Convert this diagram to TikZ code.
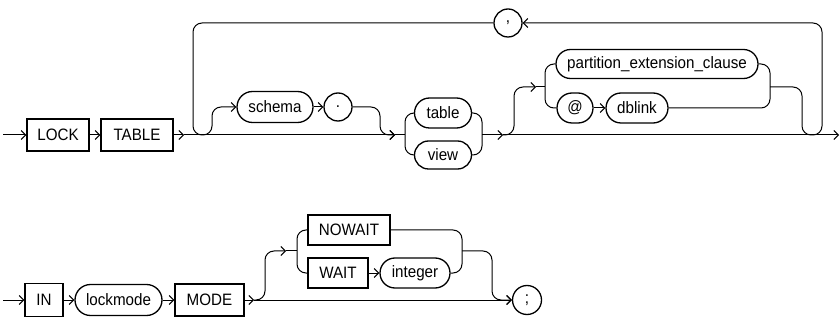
\documentclass[tikz,border=0pt]{standalone}
\usepackage{fontspec}
\setmainfont{Liberation Sans}[FakeStretch=0.92]
\usetikzlibrary{arrows.meta,shapes.misc}
\newcommand{\diagfont}{\fontsize{16.5}{18}\selectfont}
\begin{document}
\begin{tikzpicture}[x=1pt,y=-1pt,
  line width=1pt,
  >={Straight Barb[length=4.5pt,width=9pt]},
  kw/.style={draw, rectangle, line width=1.3pt, minimum height=32pt, inner sep=0pt, font=\diagfont},
  nt/.style={draw, rounded rectangle, line width=1.3pt, minimum height=30pt, inner sep=0pt, font=\diagfont},
  pc/.style={draw, circle, line width=1.3pt, minimum size=28pt, inner sep=0pt, font=\diagfont},
  rc/.style={rounded corners=9pt}]
\useasboundingbox (0,0) rectangle (840,320);

% ---------- row 1 ----------
\coordinate (s1) at (3,135);
\node[kw, minimum width=62pt] (lock) at (58,135) {LOCK};
\node[kw, minimum width=72pt] (tbl) at (137,135) {TABLE};
\coordinate (c1) at (184,135);
\node[nt, minimum width=76pt, minimum height=31pt] (sch) at (275,107) {schema};
\node[pc] (dot) at (338,107) {.};
\coordinate (a2) at (395,135);
\node[nt, minimum width=57pt] (tab) at (443,113) {table};
\node[nt, minimum width=57pt, minimum height=28pt] (vw) at (443,155) {view};
\coordinate (l1) at (405,135);
\coordinate (r1) at (482,135);
\coordinate (a3) at (503,135);
\coordinate (a4) at (536,87);
\coordinate (l2) at (545,87);
\node[nt, minimum width=202pt, minimum height=29pt] (part) at (657,64) {partition\_extension\_clause};
\node[nt, minimum width=36pt] (at) at (575,108) {@};
\node[nt, minimum width=62pt] (dbl) at (637,108) {dblink};
\coordinate (r2) at (770,87);
\node[pc] (comma) at (508,23) {,};
\coordinate (e1) at (839,135);

\draw[->] (s1) -- (lock.west);
\draw[->] (lock.east) -- (tbl.west);
\draw[->] (tbl.east) -- (c1);
\draw[->] (c1) -- (a2);
\draw (a2) -- (l1);
% loop back and schema branch
\draw[rc,->] (comma.west) -| (193,135) -| (212,107) -- (sch.west);
\draw[->] (sch.east) -- (dot.west);
\draw[rc,->] (dot.east) -| (380,135) -- (a2);
% table / view choice
\draw[rc] (tab.west) -| (l1) |- (vw.west);
\draw[rc] (tab.east) -| (r1) |- (vw.east);
\draw[->] (r1) -- (a3);
\draw[->] (a3) -- (e1);
% partition / dblink option
\draw[rc,->] (a3) -| (514,87) -- (a4);
\draw (a4) -- (l2);
\draw[rc] (part.west) -| (l2) |- (at.west);
\draw[->] (at.east) -- (dbl.west);
\draw[rc] (part.east) -| (r2) |- (dbl.east);
\draw[rc,->] (r2) -| (802,135) -| (822,23) -- (comma.east);

% ---------- row 2 ----------
\coordinate (s2) at (3,300);
\node[kw, minimum width=38pt, minimum height=33pt] (in) at (44,300) {IN};
\node[nt, minimum width=87pt, minimum height=31pt] (lm) at (118.5,300) {lockmode};
\node[kw, minimum width=69pt] (mode) at (209.5,300) {MODE};
\coordinate (b1) at (254,300);
\coordinate (b2) at (286,251);
\coordinate (l3) at (297,251);
\node[kw, minimum width=82pt, minimum height=30pt] (nw) at (349,230) {NOWAIT};
\node[kw, minimum width=60pt, minimum height=30pt] (wt) at (338,273) {WAIT};
\node[nt, minimum width=70pt] (int) at (415,273) {integer};
\coordinate (r3) at (462,251);
\node[pc, minimum size=29pt] (semi) at (527,300) {;};

\draw[->] (s2) -- (in.west);
\draw[->] (in.east) -- (lm.west);
\draw[->] (lm.east) -- (mode.west);
\draw[->] (mode.east) -- (b1);
\draw[->] (b1) -- (semi.west);
\draw[rc,->] (b1) -| (265,251) -- (b2);
\draw (b2) -- (l3);
\draw[rc] (nw.west) -| (l3) |- (wt.west);
\draw[->] (wt.east) -- (int.west);
\draw[rc] (nw.east) -| (r3) |- (int.east);
\draw[rc,->] (r3) -| (492,300) -- (semi.west);
\end{tikzpicture}
\end{document}
